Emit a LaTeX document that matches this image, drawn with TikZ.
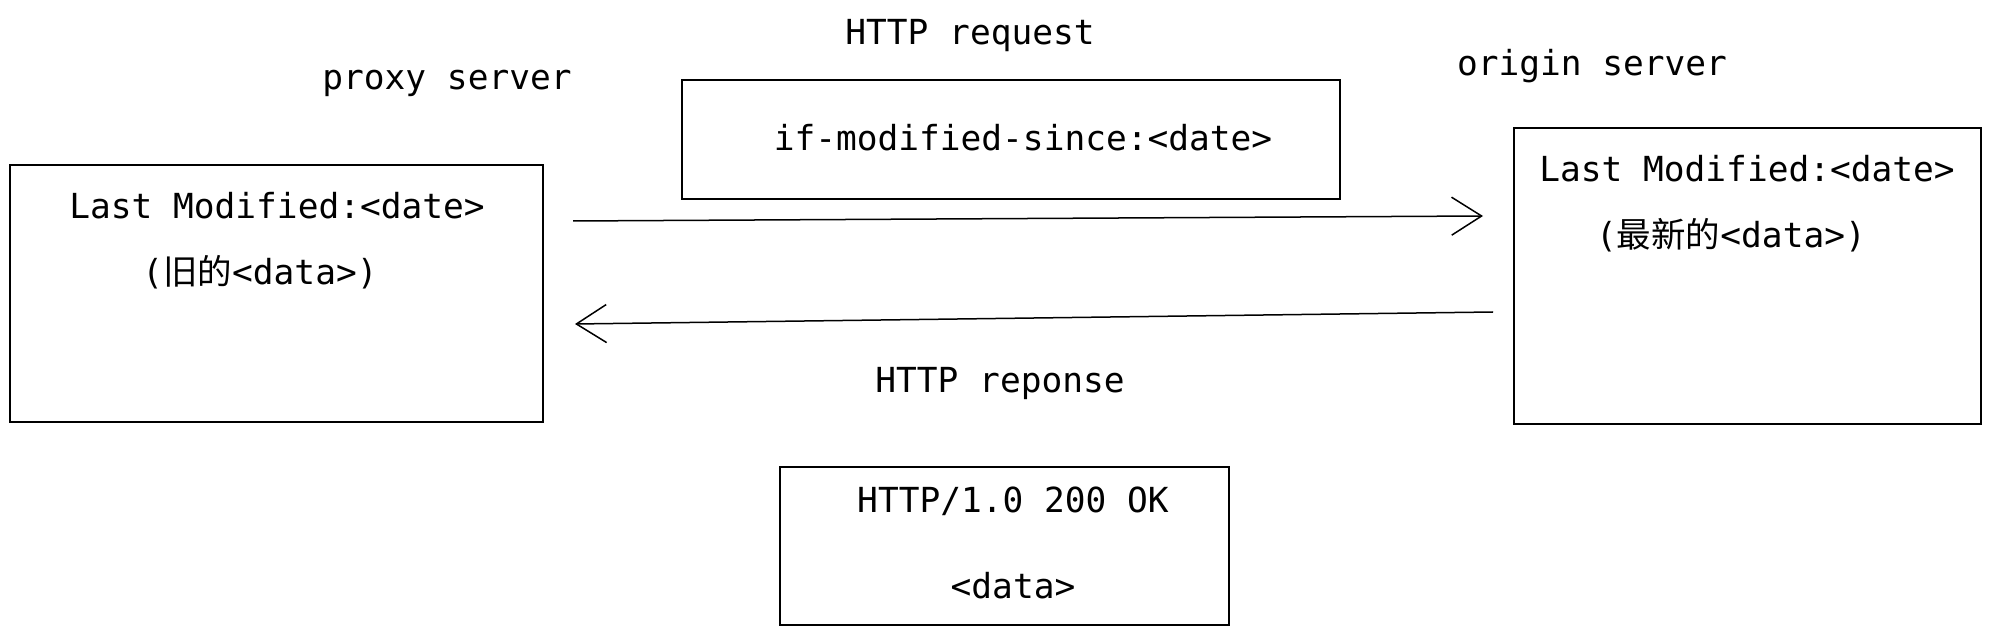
\documentclass[tikz,border=0pt]{standalone}
\usepackage{fontspec}
\setmainfont{DejaVu Sans Mono}
\setmonofont{DejaVu Sans Mono}
\newfontfamily\cjk{Noto Sans CJK SC}
\usetikzlibrary{arrows.meta}
\begin{document}
\begin{tikzpicture}[x=1pt,y=1pt,
  box/.style={draw=black, line width=1.4pt, inner sep=0pt},
  lbl/.style={inner sep=0pt, font=\fontsize{34.5}{40}\selectfont\ttfamily, text height=25pt, text depth=7pt},
  conn/.style={draw=black, line width=1.5pt, -{Straight Barb[length=30pt,width=38pt,line width=1.5pt]}}]
\useasboundingbox (0,0) rectangle (1991,635);
% boxes
\node[box, minimum width=533pt, minimum height=257pt] (proxybox) at (276.5,341.5) {};
\node[box, minimum width=467pt, minimum height=296pt] (originbox) at (1747.5,359) {};
\node[box, minimum width=658pt, minimum height=119pt] (reqbox) at (1011,495.5) {};
\node[box, minimum width=449pt, minimum height=158pt] (respbox) at (1004.5,89) {};
% labels
\node[lbl] (proxylbl) at (447,554) {proxy server};
\node[lbl] (reqlbl) at (970,599) {HTTP request};
\node[lbl] (originlbl) at (1592,568) {origin server};
\node[lbl] (resplbl) at (1000,251) {HTTP reponse};
\node[lbl] (l1) at (277,425) {Last Modified:<date>};
\node[lbl] (l2) at (260,359) {({\cjk 旧的}<data>)};
\node[lbl] (r1) at (1747,462) {Last Modified:<date>};
\node[lbl] (r2) at (1731,396) {({\cjk 最新的}<data>)};
\node[lbl] (reqtxt) at (1023,493) {if-modified-since:<date>};
\node[lbl] (resp1) at (1013,132) {HTTP/1.0 200 OK};
\node[lbl] (resp2) at (1013,46) {<data>};
% connectors
\coordinate (a1s) at (573,414);
\coordinate (a1e) at (1483,419);
\coordinate (a2s) at (1493,323);
\coordinate (a2e) at (575,311);
\draw[conn] (a1s) -- (a1e);
\draw[conn] (a2s) -- (a2e);
\end{tikzpicture}
\end{document}
